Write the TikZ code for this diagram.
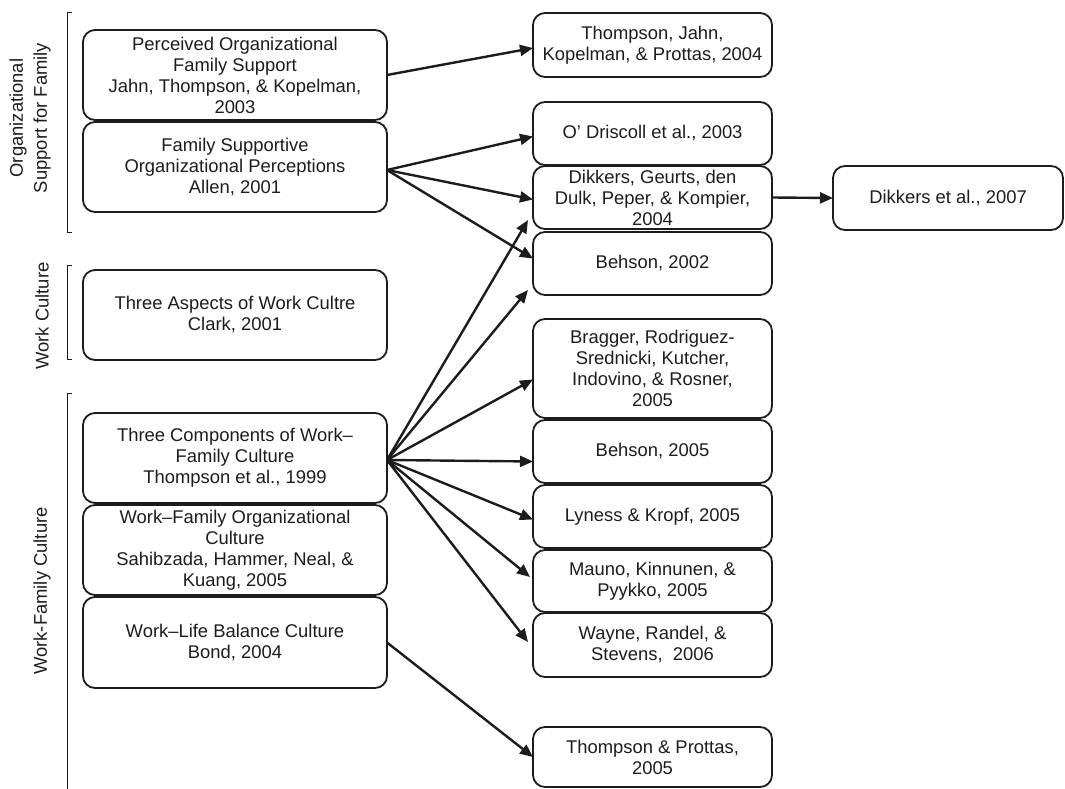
\documentclass[tikz,border=0pt]{standalone}
\usepackage{fontspec}
\setmainfont{Liberation Sans}
\usetikzlibrary{arrows.meta,calc}
\definecolor{ink}{RGB}{30,27,28}
\begin{document}
\begin{tikzpicture}[x=1pt,y=-1pt,
  txt/.style={text=ink, font=\fontsize{18.4}{21}\selectfont},
  box/.style={txt, draw=ink, line width=1.8pt, rounded corners=12pt, align=center,
              inner sep=0pt, outer sep=0pt},
  lbox/.style={box, minimum width=304pt, minimum height=90pt},
  rbox/.style={box, minimum width=239pt, minimum height=63pt},
  link/.style={draw=ink, line width=2.4pt, -{Triangle[length=13pt,width=11pt]}},
  bracketline/.style={draw=ink, line width=1pt},
  grp/.style={text=ink, font=\fontsize{18.4}{24}\selectfont, rotate=90, align=center}
]
\useasboundingbox (0,0) rectangle (1065,789);

% group brackets
\draw[bracketline] (72,13) -- (67,13) -- (67,232) -- (72,232);
\draw[bracketline] (72,265) -- (67,265) -- (67,359) -- (72,359);
\draw[bracketline] (72,393) -- (67,393) -- (67,789);

% group labels
\node[grp] (gOrg) at (30,118) {Organizational\\Support for Family};
\node[grp] (gWork) at (42,316) {Work Culture};
\node[grp] (gWF) at (42,591) {Work-Family Culture};

% constructs
\node[lbox] (B1) at (235,75) {Perceived Organizational\\Family Support\\Jahn, Thompson, \& Kopelman,\\2003};
\node[lbox] (B2) at (235,167) {Family Supportive\\Organizational Perceptions\\Allen, 2001};
\node[lbox] (B3) at (235,315) {Three Aspects of Work Cultre\\Clark, 2001};
\node[lbox] (B4) at (235,458) {Three Components of Work–\\Family Culture\\Thompson et al., 1999};
\node[lbox] (B5) at (235,550) {Work–Family Organizational\\Culture\\Sahibzada, Hammer, Neal, \&\\Kuang, 2005};
\node[lbox, minimum height=91pt] (B6) at (235,642.5) {Work–Life Balance Culture\\Bond, 2004};

% studies
\node[rbox, minimum height=64pt] (R1) at (652.5,45) {Thompson, Jahn,\\Kopelman, \& Prottas, 2004};
\node[rbox] (R2) at (652.5,133.5) {O’ Driscoll et al., 2003};
\node[rbox] (R3) at (652.5,197.5) {Dikkers, Geurts, den\\Dulk, Peper, \& Kompier,\\2004};
\node[rbox] (R4) at (652.5,263.5) {Behson, 2002};
\node[rbox, minimum height=99pt] (R5) at (652.5,368.5) {Bragger, Rodriguez-\\Srednicki, Kutcher,\\Indovino, \& Rosner,\\2005};
\node[rbox] (R6) at (652.5,451.5) {Behson, 2005};
\node[rbox] (R7) at (652.5,516.5) {Lyness \& Kropf, 2005};
\node[rbox, minimum height=62pt] (R8) at (652.5,581) {Mauno, Kinnunen, \&\\Pyykko, 2005};
\node[rbox, minimum height=64pt] (R9) at (652.5,645) {Wayne, Randel, \&\\Stevens,~ 2006};
\node[rbox, minimum height=60pt] (R10) at (652.5,757) {Thompson \& Prottas,\\2005};
\node[box, minimum width=230pt, minimum height=64pt] (RR) at (948,198) {Dikkers et al., 2007};

% links
\draw[link] (B1.east) -- ($(R1.west)+(0,3)$);
\draw[link] ($(B2.east)+(0,3)$) -- ($(R2.west)+(0,3)$);
\draw[link] ($(B2.east)+(0,3)$) -- ($(R3.west)+(0,2)$);
\draw[link] ($(B2.east)+(0,3)$) -- ($(R4.west)+(0,-5)$);
\draw[link] ($(B4.east)+(0,2)$) -- ($(R3.south west)+(-5,-9)$);
\draw[link] ($(B4.east)+(0,2)$) -- ($(R4.south west)+(-5,-5)$);
\draw[link] ($(B4.east)+(0,2)$) -- ($(R5.west)+(0,11)$);
\draw[link] ($(B4.east)+(0,2)$) -- ($(R6.west)+(0,10)$);
\draw[link] ($(B4.east)+(0,2)$) -- ($(R7.west)+(0,3)$);
\draw[link] ($(B4.east)+(0,2)$) -- ($(R8.west)+(-3,-4)$);
\draw[link] ($(B4.east)+(0,2)$) -- ($(R9.west)+(-5,-3)$);
\draw[link] (B6.east) -- (R10.west);
\draw[link] (R3.east) -- (RR.west);
\end{tikzpicture}
\end{document}
